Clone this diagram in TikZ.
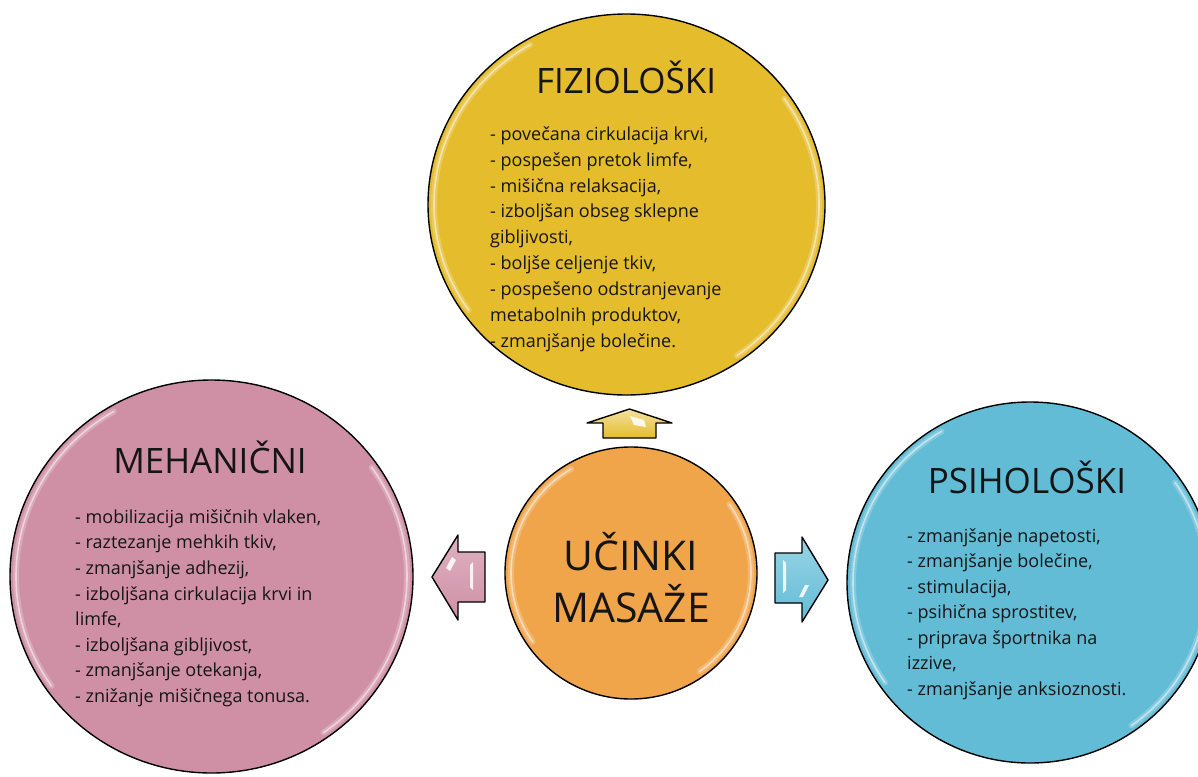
\documentclass[tikz,border=0pt]{standalone}
\usepackage{fontspec}
\setmainfont{Open Sans}
\usetikzlibrary{shapes.geometric}
\definecolor{fizcol}{HTML}{E5BC2C}
\definecolor{mehcol}{HTML}{CF90A6}
\definecolor{psicol}{HTML}{62BCD6}
\definecolor{uccol}{HTML}{F0A54B}
\definecolor{txt}{HTML}{151515}
\tikzset{
  bubble/.style={ellipse, draw=black, line width=1.4pt, inner sep=0pt},
  glosswide/.style={white, opacity=0.22, line width=6pt, line cap=round},
  glosscore/.style={white, opacity=0.5, line width=1.6pt, line cap=round},
  ttl/.style={anchor=base, inner sep=0pt, text=txt, font=\fontsize{35}{40}\selectfont},
  body/.style={anchor=north west, inner sep=0pt, align=left, text=txt},
  barrow/.style={draw=black, line width=1.4pt, line join=round},
  shine/.style={fill=white, opacity=0.85, draw=none},
}
\newcommand{\glossarcs}[4]{%
  \pgfmathsetmacro{\grx}{#3-6}\pgfmathsetmacro{\gry}{#4-6}%
  \foreach \gs in {glosswide,glosscore}{
  \draw[\gs] ([shift={(#1,#2)}]120:\grx pt and \gry pt) arc[start angle=120,end angle=215,x radius=\grx pt,y radius=\gry pt];
  \draw[\gs] ([shift={(#1,#2)}]-55:\grx pt and \gry pt) arc[start angle=-55,end angle=35,x radius=\grx pt,y radius=\gry pt];
  }
}
\begin{document}
\begin{tikzpicture}[x=1pt,y=1pt]
\useasboundingbox (0,0) rectangle (1198,-776);
\clip (0,0) rectangle (1198,-776);

% circles
\node[bubble, fill=fizcol, minimum width=397pt, minimum height=381pt] (fiz) at (626.5,-204.5) {};
\node[bubble, fill=mehcol, minimum width=403pt, minimum height=393pt] (meh) at (211.5,-576.5) {};
\node[bubble, fill=psicol, minimum width=366pt, minimum height=361pt] (psi) at (1030,-582.5) {};
\node[bubble, fill=uccol, minimum width=252pt, minimum height=252pt] (uc) at (631,-573) {};

\glossarcs{626.5}{-204.5}{198.5}{190.5}
\glossarcs{211.5}{-576.5}{201.5}{196.5}
\glossarcs{1030}{-582.5}{183}{180.5}
\glossarcs{631}{-573}{126}{126}

% block arrows
\draw[barrow, top color=fizcol!45!white, bottom color=fizcol]
  (603,-438) -- (603,-423) -- (587,-423) -- (629.5,-409) -- (672,-423) -- (656,-423) -- (656,-438) -- cycle;
\fill[shine] (630,-416) -- (644,-420) -- (646,-427) -- (634,-425) -- cycle;
\draw[barrow, top color=mehcol!70!white, bottom color=mehcol]
  (485,-552) -- (458,-552) -- (458,-535) -- (432,-577) -- (458,-620) -- (458,-602) -- (485,-602) -- cycle;
\fill[shine] (446,-568) -- (452,-557) -- (456,-560) -- (450,-571) -- cycle;
\fill[shine] (470,-565) -- (473,-562) -- (473,-590) -- (470,-587) -- cycle;
\draw[barrow, top color=psicol!65!white, bottom color=psicol]
  (775,-553) -- (802,-553) -- (802,-537) -- (828,-580) -- (802,-622) -- (802,-603) -- (775,-603) -- cycle;
\fill[shine] (783,-560) -- (786,-563) -- (786,-590) -- (783,-593) -- cycle;
\fill[shine] (805,-585) -- (809,-585) -- (803,-597) -- (799,-597) -- cycle;

% titles
\node[ttl] (fizt) at (626,-93) {FIZIOLOŠKI};
\node[ttl] (meht) at (210,-473) {MEHANIČNI};
\node[ttl] (psit) at (1027,-493) {PSIHOLOŠKI};
\node[anchor=north, inner sep=0pt, align=center, text=txt, font=\fontsize{41}{52}\selectfont] (uct) at (631,-530)
  {\rule{0pt}{40pt}UČINKI\\MASAŽE};

% bodies
\node[body, font=\fontsize{18}{25.9}\selectfont] (fizb) at (490,-120)
  {\rule{0pt}{20pt}- povečana cirkulacija krvi,\\
   - pospešen pretok limfe,\\
   - mišična relaksacija,\\
   - izboljšan obseg sklepne\\
   gibljivosti,\\
   - boljše celjenje tkiv,\\
   - pospešeno odstranjevanje\\
   metabolnih produktov,\\
   - zmanjšanje bolečine.};
\node[body, font=\fontsize{18}{25.6}\selectfont] (mehb) at (75,-503)
  {\rule{0pt}{20pt}- mobilizacija mišičnih vlaken,\\
   - raztezanje mehkih tkiv,\\
   - zmanjšanje adhezij,\\
   - izboljšana cirkulacija krvi in\\
   limfe,\\
   - izboljšana gibljivost,\\
   - zmanjšanje otekanja,\\
   - znižanje mišičnega tonusa.};
\node[body, font=\fontsize{18}{25.5}\selectfont] (psib) at (907,-522)
  {\rule{0pt}{20pt}- zmanjšanje napetosti,\\
   - zmanjšanje bolečine,\\
   - stimulacija,\\
   - psihična sprostitev,\\
   - priprava športnika na\\
   izzive,\\
   - zmanjšanje anksioznosti.};
\end{tikzpicture}
\end{document}
